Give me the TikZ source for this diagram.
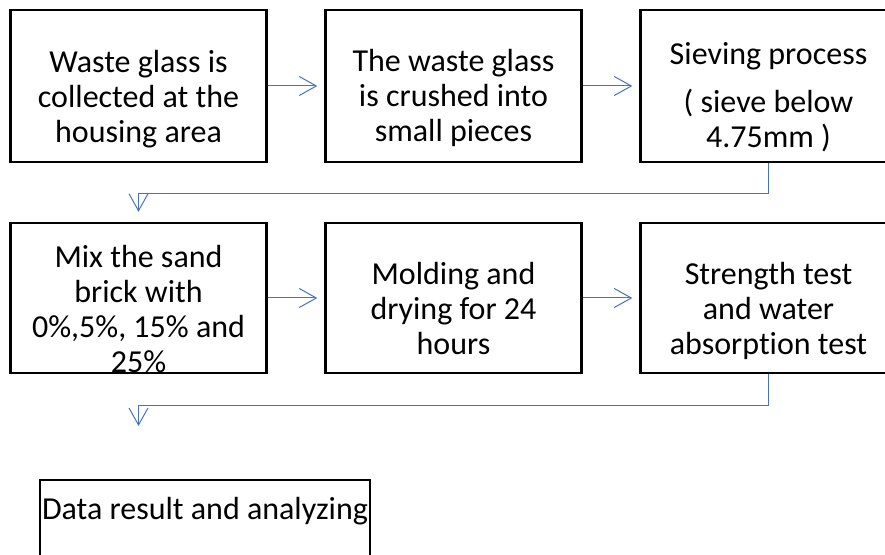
\documentclass[tikz,border=0pt]{standalone}
\usepackage{fontspec}
\setmainfont{Carlito}[Ligatures=NoCommon]
\usepackage{xcolor}
\usetikzlibrary{arrows.meta,calc}
\definecolor{flowblue}{HTML}{4472C4}
\tikzstyle{stepbox}=[draw, line width=2.4pt, minimum width=256pt, minimum height=152pt, inner sep=0pt]
\tikzstyle{steptext}=[align=center, inner sep=0pt, anchor=base, font=\fontsize{32}{35}\selectfont]
\tikzstyle{flow}=[draw=flowblue, line width=1pt, -{Straight Barb[length=17pt,width=19pt]}]
\newcommand{\rowA}{468}
\newcommand{\rowB}{256}
\newcommand{\colA}{138.5}
\newcommand{\colB}{453.5}
\newcommand{\colC}{768.5}

\begin{document}
\begin{tikzpicture}[x=1pt,y=1pt]
\clip (0,0) rectangle (885,554);
\node[stepbox] (b1) at (\colA,\rowA) {};
\node[stepbox] (b2) at (\colB,\rowA) {};
\node[stepbox] (b3) at (\colC,\rowA) {};
\node[stepbox, minimum height=150pt] (b4) at (\colA,\rowB) {};
\node[stepbox, minimum height=150pt] (b5) at (\colB,\rowB) {};
\node[stepbox, minimum height=150pt] (b6) at (\colC,\rowB) {};
\node[stepbox, minimum width=330pt, minimum height=120pt, anchor=north] (b7) at (205,75) {};
\node[steptext] (t1) at (\colA,411) {Waste glass is\\collected at the\\housing area};
\node[steptext] (t2) at (\colB,412) {The waste glass\\is crushed into\\small pieces};
\node[steptext] (t3) at (\colC,406) {Sieving process\\[13pt]( sieve below\\4.75mm )};
\node[steptext] (t4) at (\colA,181) {Mix the sand\\brick with\\0\%,5\%, 15\% and\\25\%};
\node[steptext] (t5) at (\colB,199) {Molding and\\drying for 24\\hours};
\node[steptext] (t6) at (\colC,199) {Strength test\\and water\\absorption test};
\node[steptext] (t7) at (205,35) {Data result and analyzing};
\coordinate (k1) at ($(b3.south)+(0,-30)$);
\coordinate (k2) at ($(b6.south)+(0,-31)$);
\coordinate (e2) at (\colA,128);
\draw[flow, shorten >=7pt] (b1) -- (b2);
\draw[flow, shorten >=7pt] (b2) -- (b3);
\draw[flow, shorten >=10pt] (b3.south) -- (k1) -| (b4.north);
\draw[flow, shorten >=7pt] (b4) -- (b5);
\draw[flow, shorten >=7pt] (b5) -- (b6);
\draw[flow] (b6.south) -- (k2) -| (e2);
\end{tikzpicture}
\end{document}
